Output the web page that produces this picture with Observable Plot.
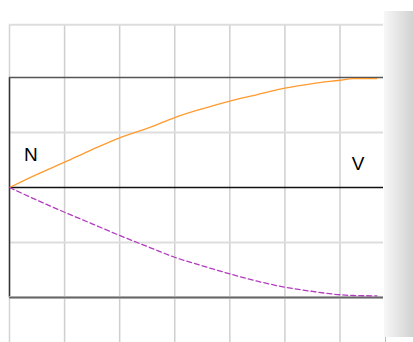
<!DOCTYPE html>
<html><head><meta charset="utf-8">
<script src="https://cdn.jsdelivr.net/npm/d3@7"></script>
<script src="https://cdn.jsdelivr.net/npm/@observablehq/plot@0.6"></script>
<style>
body{margin:0;background:#fff;}
#wrap{position:relative;width:413px;height:342px;overflow:hidden;}
#panel{position:absolute;left:384px;top:11px;width:29px;height:326px;background:linear-gradient(to right,#f7f7f7,#d2d2d2);}
#tick{position:absolute;left:385px;top:337px;width:1px;height:5px;background:#bbb;}
</style></head>
<body><div id="wrap"><div id="panel"></div><div id="tick"></div></div>
<script>
const xs = [0, 0.5, 1, 1.5, 2, 2.56, 3, 3.5, 4, 4.5, 5, 5.5, 6, 6.24, 6.67];
const upper = [0, 0.12, 0.23, 0.345, 0.452, 0.548, 0.636, 0.715, 0.785, 0.845, 0.903, 0.945, 0.975, 0.99, 0.99];
const lower = [0, -0.115, -0.225, -0.33, -0.436, -0.548, -0.634, -0.712, -0.785, -0.852, -0.906, -0.945, -0.975, -0.982, -0.985];
const gridX = [1, 2, 3, 4, 5, 6];
const labels = [{x: 0.39, y: 0.30, t: "N"}, {x: 6.33, y: 0.215, t: "V"}];

const up = xs.map((x, i) => ({x, y: upper[i]}));
const lo = xs.map((x, i) => ({x, y: lower[i]}));

const chart = Plot.plot({
  width: 413, height: 342,
  style: {background: "transparent", fontFamily: "Liberation Sans, Arial, sans-serif"},
  x: {domain: [0, 6.79], range: [9, 383], axis: null},
  y: {domain: [-1, 1], range: [297, 77], axis: null},
  marks: [
    Plot.ruleX(gridX, {y1: 1.48, y2: -1.45, stroke: "#cfcfcf", strokeWidth: 1.5}),
    Plot.ruleX([0], {y1: 1.48, y2: -1.45, stroke: "#d4d4d4", strokeWidth: 1.5}),
    Plot.ruleY([1.48, 0.5, -0.5], {x1: 0, x2: 6.79, stroke: "#dddddd", strokeWidth: 2}),
    Plot.ruleX([0], {y1: 1, y2: -1, stroke: "#333", strokeWidth: 1.5}),
    Plot.ruleY([1], {x1: 0, x2: 6.79, stroke: "#555", strokeWidth: 1.5}),
    Plot.ruleY([0], {x1: 0, x2: 6.79, stroke: "#111", strokeWidth: 1.5}),
    Plot.ruleY([-1], {x1: 0, x2: 6.79, stroke: "#aaa", strokeWidth: 3}),
    Plot.ruleY([-1], {x1: 0, x2: 6.79, stroke: "#666", strokeWidth: 1.2}),
    Plot.line(up, {x: "x", y: "y", stroke: "#ff9a2e", strokeWidth: 1.3, curve: "monotone-x"}),
    Plot.line(lo, {x: "x", y: "y", stroke: "#b23cbf", strokeWidth: 1.3, strokeDasharray: "5,3", curve: "monotone-x"}),
    Plot.text(labels, {x: "x", y: "y", text: "t", fontSize: 19, fill: "#000"})
  ]
});
document.getElementById("wrap").prepend(chart);
chart.style.position = "absolute"; chart.style.left = "0"; chart.style.top = "0";
</script></body></html>
